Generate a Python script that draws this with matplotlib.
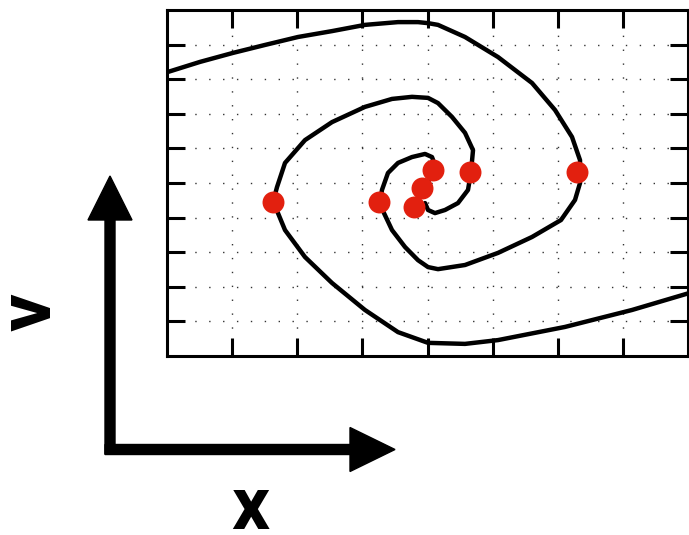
import matplotlib
matplotlib.use("Agg")
import matplotlib.pyplot as plt
from matplotlib.patches import FancyArrow

# ---- data (phase-space trajectories) ----
curve_a_x = [0.015, 0.507, 1.013, 1.505, 2.012, 2.534, 3.040, 3.547, 3.854, 4.008,
             4.161, 4.576, 5.083, 5.605, 5.958, 6.219, 6.342, 6.342, 6.342, 6.265,
             6.050, 5.605, 5.083, 4.576, 4.161, 4.008, 3.854, 3.655, 3.455, 3.332,
             3.271, 3.301, 3.393, 3.547, 3.762, 3.962, 4.069, 4.115, 4.084, 3.992,
             3.916]
curve_a_y = [8.21, 8.50, 8.76, 8.99, 9.22, 9.39, 9.57, 9.65, 9.65, 9.62,
             9.57, 9.22, 8.64, 7.89, 7.11, 6.33, 5.66, 5.32, 5.00, 4.51,
             3.93, 3.44, 2.98, 2.63, 2.51, 2.57, 2.77, 3.15, 3.64, 4.13,
             4.45, 4.80, 5.29, 5.58, 5.75, 5.84, 5.75, 5.52, 5.23, 5.00,
             4.80]

curve_b_x = [8.02, 7.140, 6.111, 5.083, 4.576, 4.008, 3.547, 3.040, 2.534, 2.119,
             1.812, 1.704, 1.628, 1.689, 1.812, 2.119, 2.534, 3.040, 3.455, 3.762,
             4.008, 4.161, 4.376, 4.576, 4.699, 4.668, 4.622, 4.468, 4.269, 4.115,
             4.008, 3.962]
curve_b_y = [1.82, 1.33, 0.84, 0.46, 0.35, 0.38, 0.69, 1.33, 2.11, 2.86,
             3.64, 4.13, 4.45, 4.88, 5.58, 6.24, 6.76, 7.20, 7.43, 7.49,
             7.46, 7.31, 6.91, 6.45, 5.95, 5.32, 4.80, 4.42, 4.22, 4.13,
             4.22, 4.42]

dots_x = [1.628, 3.255, 6.296, 4.653, 4.084, 3.916, 3.793]
dots_y = [4.45, 4.45, 5.32, 5.32, 5.38, 4.86, 4.31]

x_ticks = [1, 2, 3, 4, 5, 6, 7]
y_ticks = [1, 2, 3, 4, 5, 6, 7, 8, 9]

# ---- figure ----
fig = plt.figure(figsize=(6.89, 5.35), dpi=100)
ax = fig.add_axes([167 / 689, 1 - 356 / 535, 521 / 689, 346 / 535])
ax.set_xlim(0, 8)
ax.set_ylim(0, 10)
ax.set_xticks(x_ticks)
ax.set_yticks(y_ticks)
ax.set_xticklabels([])
ax.set_yticklabels([])
ax.tick_params(direction="in", length=13, width=2.2, top=True, right=True,
               bottom=True, left=True, color="black")
for s in ax.spines.values():
    s.set_linewidth(2.2)
    s.set_color("black")
ax.grid(True, color="#333333", linewidth=1.0, linestyle=(0, (1, 9)), zorder=0)
ax.set_axisbelow(True)

ax.plot(curve_a_x, curve_a_y, color="black", lw=3.2, solid_capstyle="round",
        solid_joinstyle="round", zorder=3)
ax.plot(curve_b_x, curve_b_y, color="black", lw=3.2, solid_capstyle="round",
        solid_joinstyle="round", zorder=3)
ax.plot(dots_x, dots_y, linestyle="none", marker="o", markersize=15.8,
        markerfacecolor="#e2200f", markeredgewidth=0, zorder=4)

# ---- big axis arrows and labels (figure inches) ----
tr = fig.dpi_scale_trans
H = 5.35
fig.add_artist(FancyArrow(1.10, H - 4.54, 0, 4.54 - 1.76, width=0.10,
                          head_width=0.44, head_length=0.44,
                          length_includes_head=True, color="black",
                          transform=tr))
fig.add_artist(FancyArrow(1.05, H - 4.495, 3.95 - 1.05, 0, width=0.10,
                          head_width=0.44, head_length=0.45,
                          length_includes_head=True, color="black",
                          transform=tr))
fig.text(2.50, H - 5.09, "x", transform=tr, fontsize=54, fontweight="bold",
         family="Roboto", ha="center", va="center")
fig.text(0.31, H - 3.12, "v", transform=tr, fontsize=54, fontweight="bold",
         family="Roboto", ha="center", va="center", rotation=90)

fig.savefig("out.png", dpi=100)
